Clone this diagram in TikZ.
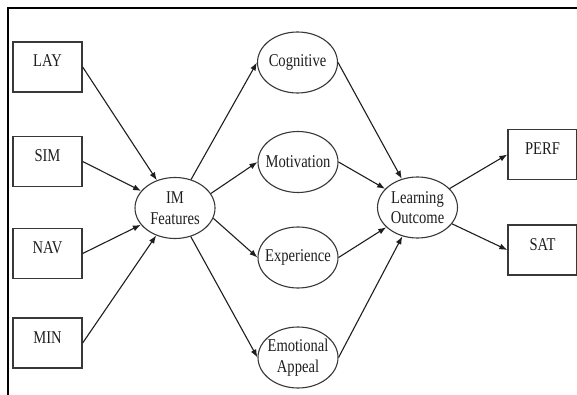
\documentclass[tikz,border=0pt]{standalone}
\usepackage{fontspec}
\setmainfont{Liberation Serif}[FakeStretch=0.81]
\usepackage{tikz}
\usetikzlibrary{shapes.geometric,arrows.meta}
\definecolor{ink}{HTML}{1E1E1E}
\definecolor{edge}{HTML}{383838}
\tikzset{
  frame/.style={draw=black, line width=2.6pt},
  box/.style={draw=edge, line width=1.3pt, rectangle, minimum width=69pt, minimum height=50pt,
    inner sep=0pt, text height=12pt, text depth=12pt, text=ink, font=\fontsize{18}{20.5}\selectfont},
  oval/.style={draw=edge, line width=1.1pt, ellipse, minimum width=80pt, minimum height=61pt,
    inner xsep=-8pt, inner ysep=-4pt, align=center, text=ink, font=\fontsize{18}{20.5}\selectfont},
  arr/.style={draw=ink, line width=1.1pt, -{Latex[length=8pt,width=6pt]}},
}
\begin{document}
\begin{tikzpicture}[x=1pt,y=-1pt]
  \useasboundingbox (0,0) rectangle (577,395);

  % frame
  \draw[frame] (8,395) -- (8,8) -- (577,8);

  % inputs
  \foreach \nm/\lab/\y in {lay/LAY/67, sim/SIM/161.5, nav/NAV/253.5, min/MIN/343}{
    \node[box] (\nm) at (47.5,\y) {\lab};
  }

  % constructs
  \node[oval] (im)  at (175,208)   {IM\\Features};
  \node[oval] (cog) at (297.5,62.5) {Cognitive};
  \node[oval] (mot) at (298,162)   {Motivation};
  \node[oval] (exp) at (298,257.5) {Experience};
  \node[oval] (emo) at (298,357.5) {Emotional\\Appeal};
  \node[oval] (lo)  at (417.5,207.5) {Learning\\Outcome};

  % outcomes
  \node[box] (perf) at (542.5,154.5) {PERF};
  \node[box] (sat)  at (542.5,250)   {SAT};

  % paths
  \foreach \nm in {lay,sim,nav,min}{
    \draw[arr] (\nm.east) -- (im);
  }
  \draw[arr] (im) -- (cog.west);
  \draw[arr] (im.22) -- (mot.west);
  \draw[arr] (im.-15) -- (exp.west);
  \draw[arr] (im) -- (emo.west);
  \foreach \nm in {cog,mot,exp,emo}{
    \draw[arr] (\nm.east) -- (lo);
  }
  \draw[arr] (lo) -- (perf.west);
  \draw[arr] (lo) -- (sat.west);
\end{tikzpicture}
\end{document}
